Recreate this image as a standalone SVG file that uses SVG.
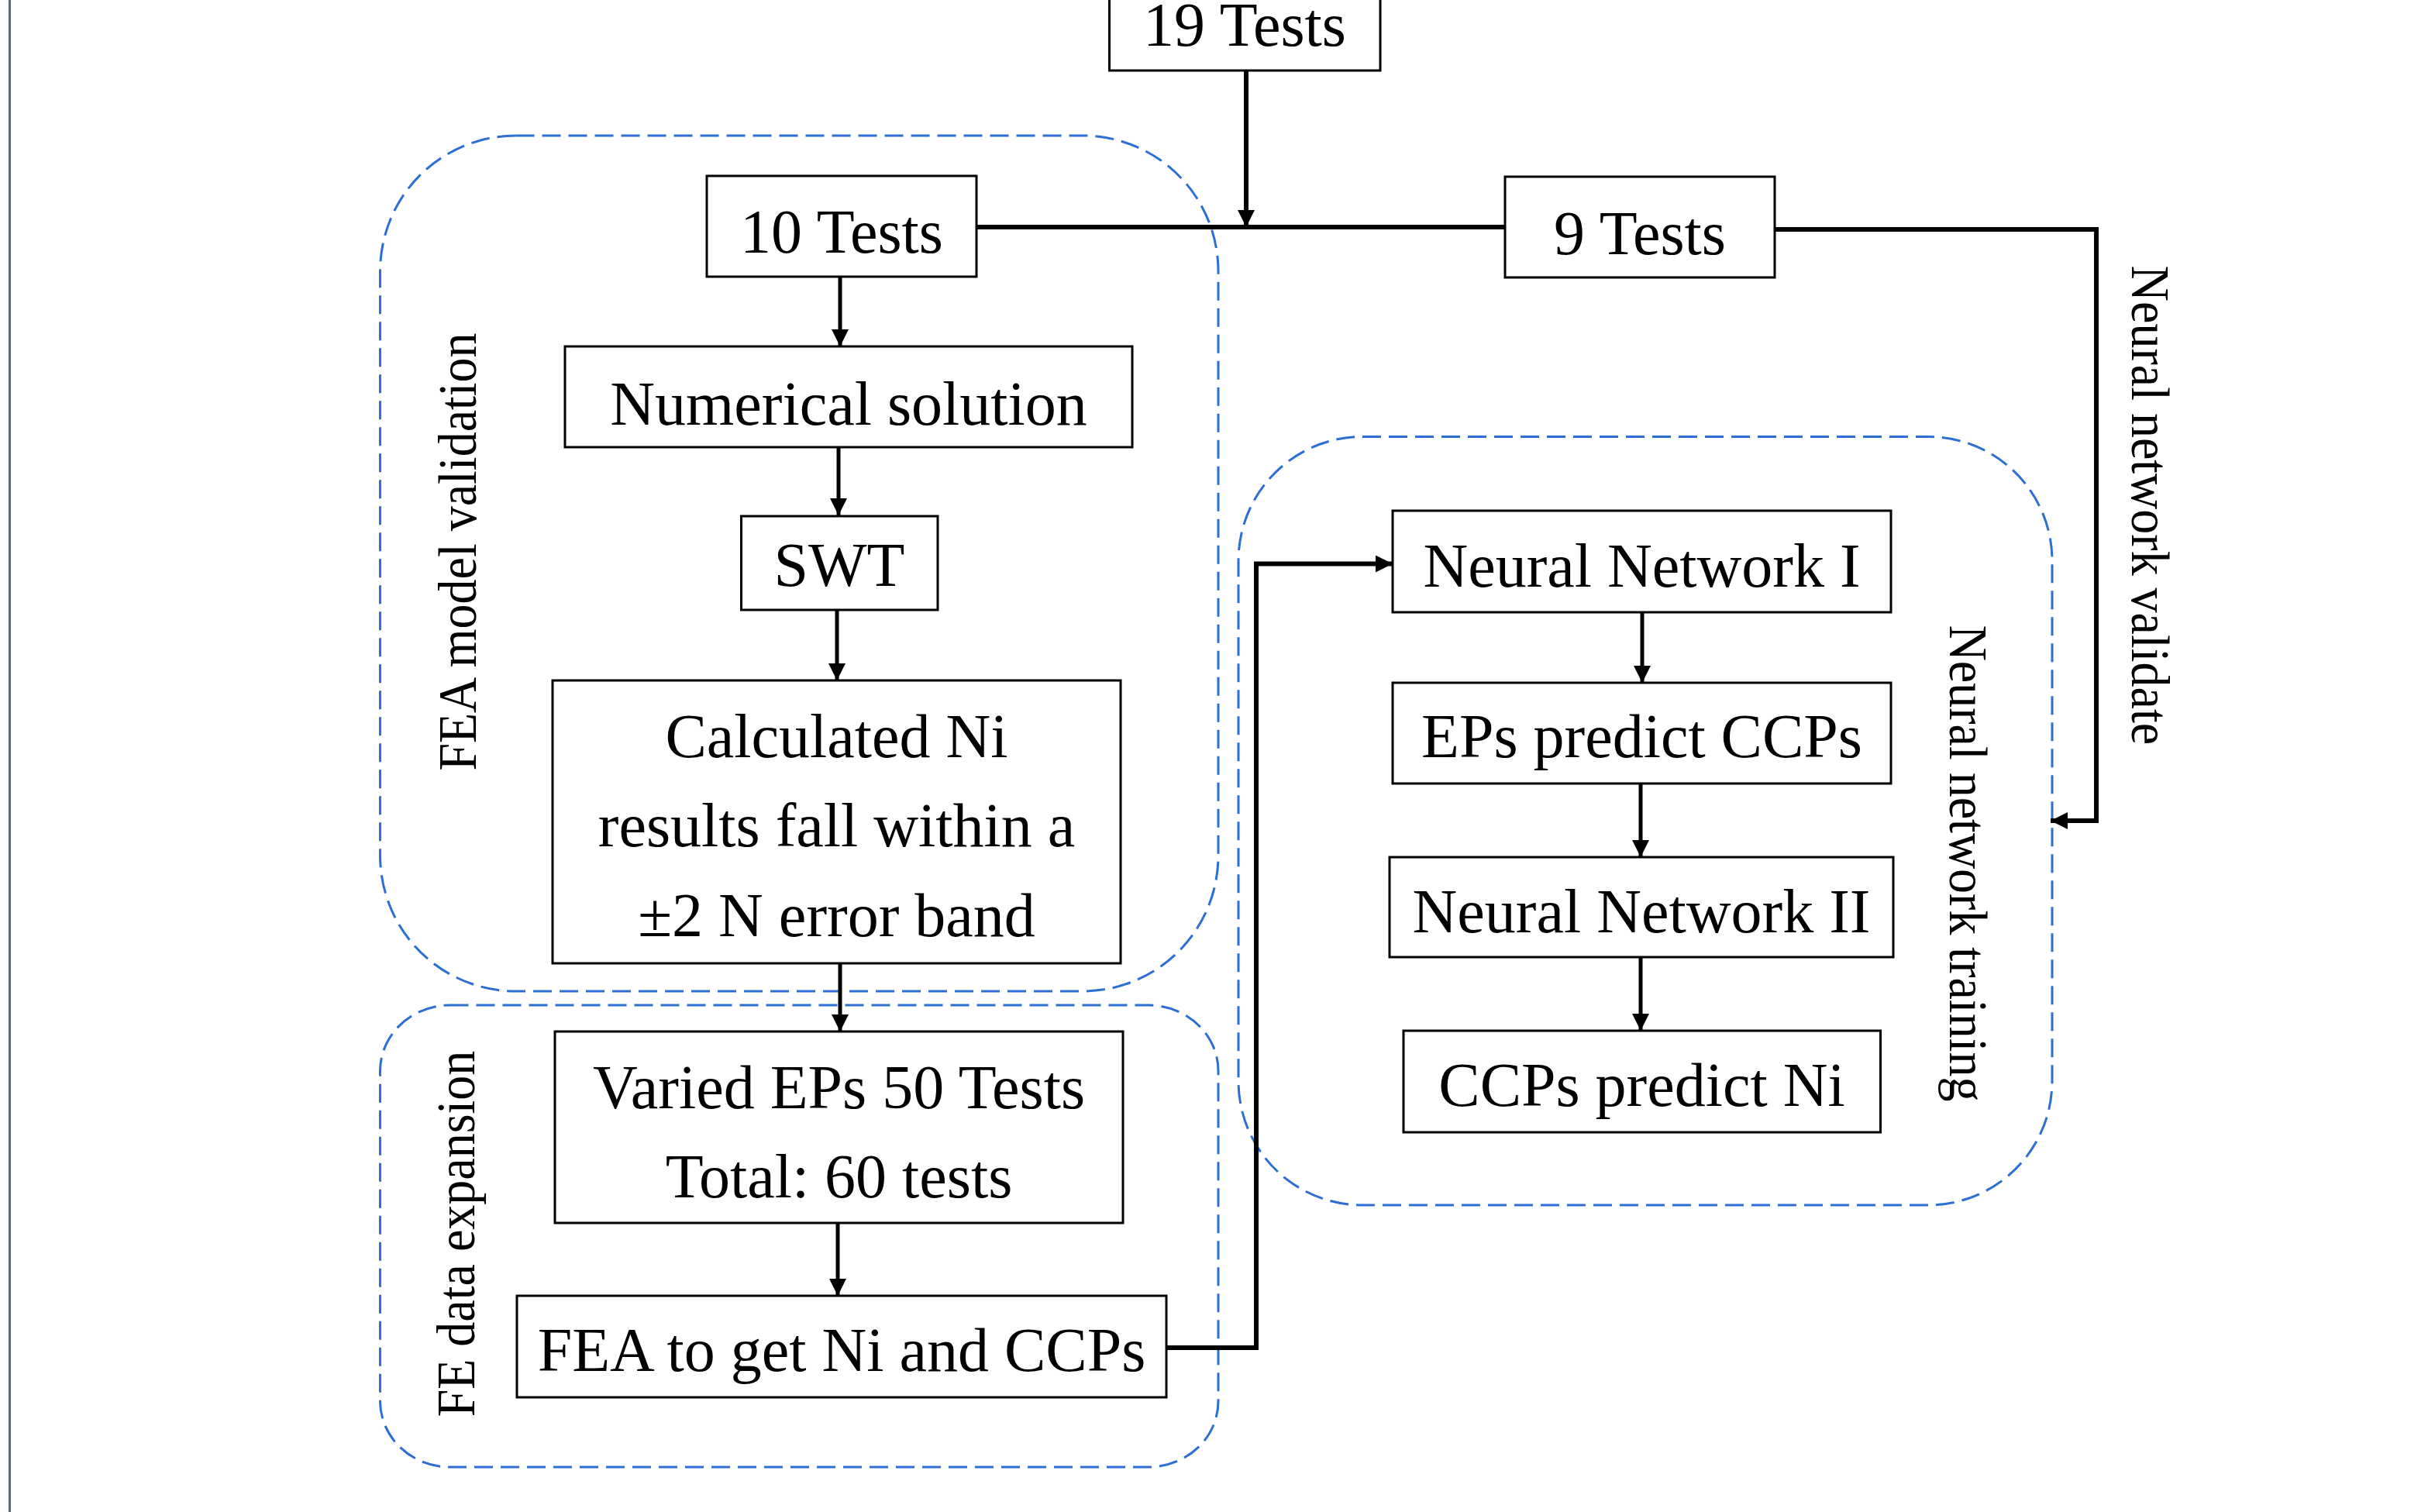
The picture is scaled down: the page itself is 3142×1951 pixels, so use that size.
<svg xmlns="http://www.w3.org/2000/svg" width="3142" height="1951" viewBox="0 0 3142 1951">
<style>
.box{fill:#fff;stroke:#000;stroke-width:3}
.grp{fill:none;stroke:#2b6ed4;stroke-width:3;stroke-dasharray:24 10}
.t{font-family:"Liberation Serif","Times New Roman",serif;font-size:80px;fill:#000;text-anchor:middle}
.side{font-family:"Liberation Serif","Times New Roman",serif;font-size:64px;fill:#000;text-anchor:middle}
.c{fill:none;stroke:#000;stroke-width:6}
.a{fill:none;stroke:#000;stroke-width:5;marker-end:url(#ah)}
.ac{fill:none;stroke:#000;stroke-width:6;marker-end:url(#ah)}
</style>
<defs>
<marker id="ah" markerUnits="userSpaceOnUse" markerWidth="22" markerHeight="22" refX="22" refY="11" orient="auto">
<path d="M0,0 L22,11 L0,22 z" fill="#000"/>
</marker>
</defs>
<rect width="3142" height="1951" fill="#fff"/>
<line x1="12.5" y1="0" x2="12.5" y2="1951" stroke="#4f6d9c" stroke-width="3"/>

<g id="groups">
<rect id="grp-fea-validation" class="grp" x="490.5" y="175" width="1081.5" height="1104" rx="175" ry="175"/>
<rect id="grp-fe-expansion" class="grp" x="490.5" y="1297" width="1081.5" height="596" rx="90" ry="85"/>
<rect id="grp-nn-training" class="grp" x="1598" y="563.5" width="1050" height="991.5" rx="160" ry="160"/>
</g>

<g id="connectors">
<path class="c" d="M1260,293 L1942,293"/>
<path class="ac" d="M1608,91 L1608,293"/>
<path class="ac" d="M2290,296 L2705,296 L2705,1059 L2646,1059"/>
<path class="a" d="M1084,357 L1084,447"/>
<path class="a" d="M1082,577 L1082,665"/>
<path class="a" d="M1080,787 L1080,878"/>
<path class="a" d="M1084,1243 L1084,1331"/>
<path class="a" d="M1081,1578 L1081,1672"/>
<path class="ac" d="M1505,1739 L1621,1739 L1621,727.5 L1797,727.5"/>
<path class="a" d="M2119,790 L2119,881"/>
<path class="a" d="M2117,1011 L2117,1106"/>
<path class="a" d="M2117,1235 L2117,1330"/>
</g>

<g id="n19">
<rect class="box" x="1431.5" y="-10" width="349.5" height="101"/>
<text class="t" x="1606" y="59">19 Tests</text>
</g>
<g id="n10">
<rect class="box" x="912" y="227" width="348" height="130"/>
<text class="t" x="1086" y="326">10 Tests</text>
</g>
<g id="n9">
<rect class="box" x="1942" y="228" width="348" height="130"/>
<text class="t" x="2116" y="328">9 Tests</text>
</g>
<g id="nnum">
<rect class="box" x="729" y="447" width="732" height="130"/>
<text class="t" x="1095" y="548">Numerical solution</text>
</g>
<g id="nswt">
<rect class="box" x="956.5" y="666" width="253.5" height="121"/>
<text class="t" x="1083" y="756">SWT</text>
</g>
<g id="ncalc">
<rect class="box" x="713" y="878" width="733" height="365"/>
<text class="t" x="1079.5" y="977">Calculated Ni</text>
<text class="t" x="1079.5" y="1092">results fall within a</text>
<text class="t" x="1079.5" y="1208">±2 N error band</text>
</g>
<g id="nvaried">
<rect class="box" x="716" y="1331" width="733" height="247"/>
<text class="t" x="1082.5" y="1430">Varied EPs 50 Tests</text>
<text class="t" x="1082.5" y="1545">Total: 60 tests</text>
</g>
<g id="nfea">
<rect class="box" x="667" y="1672" width="838" height="131"/>
<text class="t" x="1086" y="1769">FEA to get Ni and CCPs</text>
</g>
<g id="nnn1">
<rect class="box" x="1797" y="659" width="643" height="131"/>
<text class="t" x="2118.5" y="757">Neural Network I</text>
</g>
<g id="neps">
<rect class="box" x="1797" y="881" width="643" height="130"/>
<text class="t" x="2118.5" y="977">EPs predict CCPs</text>
</g>
<g id="nnn2">
<rect class="box" x="1793" y="1106" width="650" height="129"/>
<text class="t" x="2118" y="1203">Neural Network II</text>
</g>
<g id="nccps">
<rect class="box" x="1811" y="1330" width="615.5" height="131"/>
<text class="t" x="2118.5" y="1427">CCPs predict Ni</text>
</g>

<g id="labels">
<text class="side" transform="translate(614,712) rotate(-90) scale(1,1.08)">FEA model validation</text>
<text class="side" transform="translate(612,1592) rotate(-90) scale(1,1.08)">FE data expansion</text>
<text class="side" transform="translate(2516,1114) rotate(90) scale(1,1.08)">Neural network training</text>
<text class="side" transform="translate(2751,652) rotate(90) scale(1,1.08)">Neural network validate</text>
</g>
</svg>
